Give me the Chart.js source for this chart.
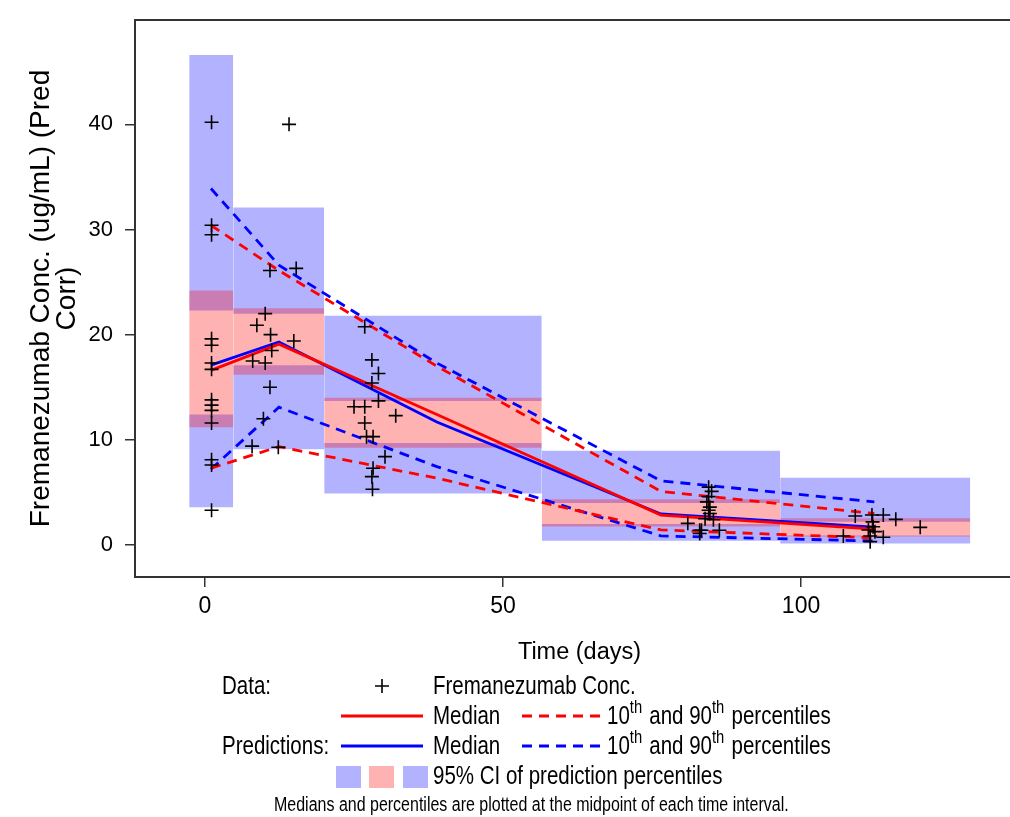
<!DOCTYPE html>
<html>
<head>
<meta charset="utf-8">
<title>Fremanezumab VPC</title>
<script src="https://cdn.jsdelivr.net/npm/chart.js@4.4.1/dist/chart.umd.min.js"></script>
<style>
  html, body { margin: 0; padding: 0; background: #fff; overflow: hidden; }
  #vpcChart { display: block; }
</style>
</head>
<body>
<!-- the plot box runs a little past the right edge of the window, like the original -->
<canvas id="vpcChart" width="1024" height="817"></canvas>
<script>
// Time interval edges (days) of the shaded boxes
const binEdges = [-2.65, 4.74, 20.0, 56.5, 96.5, 128.4];
// Midpoint of each interval, where medians / percentiles are plotted
const midTimes = [1.0, 12.4, 38.9, 76.5, 112.3];

// Observed percentiles (red)
const obsMedian = [16.6, 19.1, 12.4, 2.85, 1.5];
const obsP10 = [7.3, 9.35, 6.35, 1.43, 0.67];
const obsP90 = [30.4, 26.1, 17.0, 5.1, 3.0];

// Predicted percentiles (blue)
const predMedian = [17.1, 19.3, 11.7, 2.95, 1.7];
const predP10 = [7.2, 13.1, 7.45, 0.86, 0.38];
const predP90 = [33.9, 26.6, 17.3, 6.1, 4.1];

// 95% CI of the prediction percentiles, one value per interval
const ci10Low = [3.6, 9.1, 4.9, 0.4, 0.15];
const ci10High = [12.4, 17.1, 9.7, 2.0, 0.9];
const ci50Low = [11.2, 16.2, 9.25, 1.75, 0.8];
const ci50High = [24.2, 22.5, 14.0, 4.35, 2.55];
const ci90Low = [22.3, 22.0, 13.7, 4.0, 2.2];
const ci90High = [46.6, 32.1, 21.8, 8.95, 6.4];

// Observed concentrations (ug/mL, pred corr)
const obsTime = [
  1.1, 1.1, 1.1, 1.1, 1.1, 1.1, 1.1, 1.1, 1.1, 1.1, 1.1, 1.1, 1.1, 1.1,
  14.1, 10.9, 15.3, 10.1, 8.7, 11.0, 14.9, 11.2, 8.0, 10.1, 10.9, 9.8, 7.9, 12.3,
  26.8, 28.0, 29.1, 28.0, 29.1, 25.0, 26.8, 32.0, 26.8, 27.1, 28.2, 30.2, 28.2, 28.0, 28.1,
  84.5, 85.0, 84.5, 84.2, 84.7, 84.5, 84.7, 81.0, 83.9, 85.3, 83.0, 83.3, 86.3, 83.0,
  109.1, 111.9, 113.8, 115.9, 120.0, 112.1, 112.0, 111.3, 107.1, 111.6, 113.8, 111.6, 112.4
];
const obsConc = [
  40.2, 30.4, 29.5, 19.6, 19.0, 17.3, 16.7, 13.8, 13.3, 12.8, 11.6, 8.1, 7.6, 3.3,
  40.0, 26.1, 26.3, 22.0, 20.9, 20.0, 19.4, 18.5, 17.5, 17.3, 15.0, 12.0, 9.4, 9.3,
  20.75, 17.6, 16.3, 15.4, 13.7, 13.15, 13.15, 12.3, 11.6, 10.3, 10.3, 8.4, 7.3, 6.5, 5.3,
  5.5, 5.1, 4.6, 4.1, 3.6, 3.3, 3.0, 2.06, 2.5, 2.4, 1.4, 1.4, 1.4, 1.1,
  2.76, 2.85, 2.85, 2.44, 1.68, 1.74, 2.2, 1.43, 0.86, 0.86, 0.73, 0.32, 1.27
];

const xTicks = [0, 50, 100];
const yTicks = [0, 10, 20, 30, 40];

const RED = "#ff0000";
const BLUE = "#0000ff";
const BLUE_FILL = "rgba(0, 0, 255, 0.3)";
const RED_FILL = "rgba(255, 0, 0, 0.3)";
const FONT = "'Liberation Sans', Arial, sans-serif";
const SQUEEZE = 0.82; // the legend text in the original is condensed

const datasets = [];

// data crosses (drawn on top)
datasets.push({
  type: "line",
  showLine: false,
  data: obsTime.map((t, i) => ({ x: t, y: obsConc[i] })),
  pointStyle: "cross",
  pointRadius: 7,
  pointBorderColor: "#000",
  pointBorderWidth: 1.6,
  order: 0
});

// percentile lines
function lineSet(values, color, dashed) {
  return {
    type: "line",
    data: midTimes.map((t, i) => ({ x: t, y: values[i] })),
    borderColor: color,
    borderWidth: 2.8,
    borderDash: dashed ? [10, 7] : [],
    pointRadius: 0,
    fill: false,
    tension: 0,
    order: 1
  };
}
datasets.push(lineSet(obsMedian, RED, false));
datasets.push(lineSet(predMedian, BLUE, false));
datasets.push(lineSet(obsP90, RED, true));
datasets.push(lineSet(obsP10, RED, true));
datasets.push(lineSet(predP90, BLUE, true));
datasets.push(lineSet(predP10, BLUE, true));

// CI boxes: each interval is a flat line filled down to its lower bound
function boxes(lows, highs, color, order) {
  lows.forEach((lo, i) => {
    datasets.push({
      type: "line",
      data: [{ x: binEdges[i], y: highs[i] }, { x: binEdges[i + 1], y: highs[i] }],
      borderColor: "transparent",
      borderWidth: 0,
      pointRadius: 0,
      fill: { value: lo },
      backgroundColor: color,
      order: order
    });
  });
}
boxes(ci50Low, ci50High, RED_FILL, 2);
boxes(ci10Low, ci10High, BLUE_FILL, 3);
boxes(ci90Low, ci90High, BLUE_FILL, 3);

// condensed text helper, returns drawn width
function squeezedText(ctx, txt, x, y) {
  const w = ctx.measureText(txt).width * SQUEEZE;
  ctx.fillText(txt, x, y, w);
  return w;
}

// top frame line + legend block under the plot
const legendPlugin = {
  id: "vpcLegend",
  afterDraw(chart) {
    const ctx = chart.ctx;
    const area = chart.chartArea;
    ctx.save();
    ctx.strokeStyle = "#333";
    ctx.lineWidth = 2;
    ctx.beginPath();
    ctx.moveTo(area.left, area.top);
    ctx.lineTo(area.right, area.top);
    ctx.stroke();

    ctx.fillStyle = "#000";
    ctx.textBaseline = "middle";
    ctx.textAlign = "left";
    const f = "25px " + FONT;
    ctx.font = f;

    // Data row
    squeezedText(ctx, "Data:", 222, 687);
    ctx.strokeStyle = "#000";
    ctx.lineWidth = 1.6;
    ctx.beginPath();
    ctx.moveTo(375, 686); ctx.lineTo(389, 686);
    ctx.moveTo(382, 679); ctx.lineTo(382, 693);
    ctx.stroke();
    squeezedText(ctx, "Fremanezumab Conc.", 433, 687);

    function sample(y, color) {
      ctx.strokeStyle = color;
      ctx.lineWidth = 2.8;
      ctx.setLineDash([]);
      ctx.beginPath();
      ctx.moveTo(341, y); ctx.lineTo(423, y);
      ctx.stroke();
      ctx.setLineDash([10, 7]);
      ctx.beginPath();
      ctx.moveTo(522, y); ctx.lineTo(600, y);
      ctx.stroke();
      ctx.setLineDash([]);
      ctx.font = f;
      squeezedText(ctx, "Median", 433, y + 1);
      let x = 607;
      const parts = [["10", false], ["th", true], [" and 90", false], ["th", true], [" percentiles", false]];
      parts.forEach(([txt, sup]) => {
        ctx.font = sup ? "18px " + FONT : f;
        x += squeezedText(ctx, txt, x, sup ? y - 8 : y + 1) + (sup ? 1.5 : 0);
      });
      ctx.font = f;
    }
    sample(716, RED);
    squeezedText(ctx, "Predictions:", 222, 747);
    sample(746, BLUE);

    // CI swatches
    ctx.fillStyle = BLUE_FILL;
    ctx.fillRect(336, 766, 25, 22);
    ctx.fillStyle = RED_FILL;
    ctx.fillRect(369, 766, 25, 22);
    ctx.fillStyle = BLUE_FILL;
    ctx.fillRect(403, 766, 25, 22);
    ctx.fillStyle = "#000";
    squeezedText(ctx, "95% CI of prediction percentiles", 433, 777);

    ctx.font = "19.5px " + FONT;
    squeezedText(ctx, "Medians and percentiles are plotted at the midpoint of each time interval.", 274, 806);
    ctx.restore();
  }
};

new Chart(document.getElementById("vpcChart"), {
  type: "line",
  data: { datasets: datasets },
  plugins: [legendPlugin],
  options: {
    responsive: false,
    animation: false,
    layout: { autoPadding: false, padding: { top: 20, right: 0, left: 0, bottom: 0 } },
    plugins: {
      legend: { display: false },
      tooltip: { enabled: false }
    },
    scales: {
      x: {
        type: "linear",
        min: -11.745,
        max: 137.41,
        afterBuildTicks: ax => { ax.ticks = xTicks.map(v => ({ value: v })); },
        afterFit: ax => {
          ax.height = 240;
          ax.paddingLeft = 0;
          ax.paddingRight = 0;
        },
        grid: { drawOnChartArea: false, tickLength: 10, color: "#333", lineWidth: 1.5 },
        border: { color: "#333", width: 2 },
        ticks: { color: "#000", font: { family: FONT, size: 23 }, padding: 6, maxRotation: 0 },
        title: {
          display: true,
          text: "Time (days)",
          color: "#000",
          font: { family: FONT, size: 23.5, lineHeight: 1 },
          padding: { top: 0, bottom: 153 }
        }
      },
      y: {
        type: "linear",
        min: -3.043,
        max: 49.92,
        afterBuildTicks: ax => { ax.ticks = yTicks.map(v => ({ value: v })); },
        afterFit: ax => {
          ax.width = 135;
          ax.paddingTop = 0;
          ax.paddingBottom = 0;
        },
        grid: { drawOnChartArea: false, tickLength: 10, color: "#333", lineWidth: 1.5 },
        border: { color: "#333", width: 2 },
        ticks: { color: "#000", font: { family: FONT, size: 22 }, padding: 12 },
        title: {
          display: true,
          text: ["Fremanezumab Conc. (ug/mL) (Pred", "Corr)"],
          color: "#000",
          font: { family: FONT, size: 28, lineHeight: 0.9 },
          padding: { top: 29, bottom: 0 }
        }
      }
    }
  }
});
</script>
</body>
</html>
